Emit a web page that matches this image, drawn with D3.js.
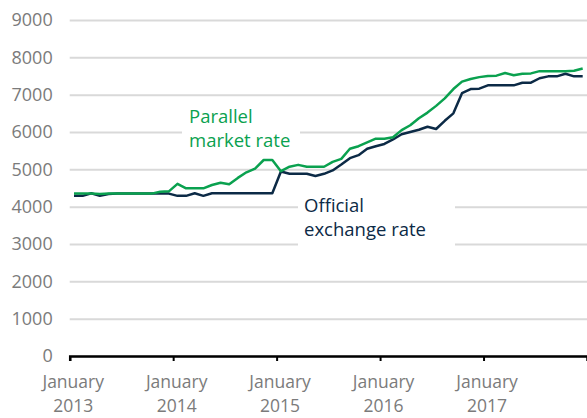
<!DOCTYPE html>
<html>
<head>
<meta charset="utf-8">
<script src="https://cdn.jsdelivr.net/npm/d3@7"></script>
<style>
  body { margin: 0; background: #fff; }
  text { font-family: "Open Sans", sans-serif; }
</style>
</head>
<body>
<div id="caja"></div>
<script>
// monthly values, January 2013 - December 2017
var official = [
  4290, 4290, 4360, 4290, 4340, 4350, 4350, 4350, 4350, 4350, 4350, 4350,
  4290, 4290, 4360, 4290, 4360, 4360, 4360, 4360, 4360, 4360, 4360, 4360,
  4940, 4880, 4880, 4880, 4820, 4880, 4970, 5130, 5300, 5380, 5550, 5620,
  5680, 5800, 5940, 6000, 6060, 6140, 6080, 6300, 6500, 7040, 7150, 7160,
  7250, 7250, 7250, 7250, 7320, 7320, 7440, 7490, 7490, 7560, 7490, 7490
];
var parallel = [
  4350, 4350, 4350, 4340, 4350, 4350, 4350, 4350, 4350, 4350, 4400, 4410,
  4610, 4490, 4490, 4490, 4580, 4640, 4600, 4770, 4920, 5020, 5250, 5250,
  4950, 5070, 5120, 5070, 5070, 5070, 5200, 5280, 5550, 5620, 5720, 5820,
  5820, 5860, 6050, 6180, 6370, 6520, 6700, 6900, 7150, 7350, 7420, 7470,
  7500, 7510, 7580, 7520, 7560, 7570, 7630, 7630, 7630, 7630, 7640, 7700
];
var yTicks = [0, 1000, 2000, 3000, 4000, 5000, 6000, 7000, 8000, 9000];
var xTicks = [0, 12, 24, 36, 48];
var xTickLabels = ["January|2013", "January|2014", "January|2015", "January|2016", "January|2017"];

var w = 587, h = 418;
var verde = "#0aa14f", azul = "#0c2a46", gris = "#7b7b7b";

var svg = d3.select("#caja").append("svg")
  .attr("width", w)
  .attr("height", h);

var x = d3.scaleLinear().domain([0, 60]).range([69.7, 587]);
var y = d3.scaleLinear().domain([0, 9000]).range([356, 20]);

// gridlines + labels
var yAxis = svg.append("g")
  .attr("transform", "translate(69.7,0)")
  .call(d3.axisLeft(y).tickValues(yTicks).tickSize(-(587 - 69.7)).tickPadding(17).tickFormat(d3.format("d")));
yAxis.select(".domain").remove();
yAxis.selectAll(".tick line").attr("stroke", "#d9d9d9").attr("stroke-width", 2);
yAxis.selectAll(".tick text")
  .style("font-size", "18px")
  .style("fill", gris);

// white boxes behind the series labels
svg.append("rect").attr("x", 182).attr("y", 104).attr("width", 118).attr("height", 48).attr("fill", "#fff");
svg.append("rect").attr("x", 298).attr("y", 190).attr("width", 157).attr("height", 60).attr("fill", "#fff");

// x axis
var xAxis = svg.append("g")
  .attr("transform", "translate(0,356)")
  .call(d3.axisBottom(x).tickValues(xTicks).tickSize(5).tickFormat(""));
xAxis.select(".domain").attr("stroke", "#000").attr("stroke-width", 2.5);
xAxis.selectAll(".tick line").attr("stroke", "#000").attr("stroke-width", 2);

xAxis.selectAll(".tick").append("text")
  .attr("fill", gris)
  .style("font-size", "17.5px")
  .attr("text-anchor", "middle")
  .attr("x", 3)
  .selectAll("tspan")
  .data(function(d, i) { return xTickLabels[i].split("|"); })
  .enter()
  .append("tspan")
  .attr("x", 3)
  .attr("y", function(d, i) { return 32 + i * 24; })
  .text(function(d) { return d; });

// lines
var linea = d3.line()
  .x(function(d, i) { return x(i + 0.5); })
  .y(function(d) { return y(d); });

svg.append("path").datum(official)
  .attr("d", linea)
  .attr("fill", "none")
  .attr("stroke", azul)
  .attr("stroke-width", 2.5)
  .attr("stroke-linejoin", "round");

svg.append("path").datum(parallel)
  .attr("d", linea)
  .attr("fill", "none")
  .attr("stroke", verde)
  .attr("stroke-width", 2.5)
  .attr("stroke-linejoin", "round");

// series labels
var lab1 = svg.append("text").attr("fill", verde).style("font-size", "18.5px");
lab1.append("tspan").attr("x", 189).attr("y", 123).text("Parallel");
lab1.append("tspan").attr("x", 189).attr("y", 147).text("market rate");

var lab2 = svg.append("text").attr("fill", azul).style("font-size", "18.5px");
lab2.append("tspan").attr("x", 304).attr("y", 212).text("Official");
lab2.append("tspan").attr("x", 304).attr("y", 236).text("exchange rate");
</script>
</body>
</html>
